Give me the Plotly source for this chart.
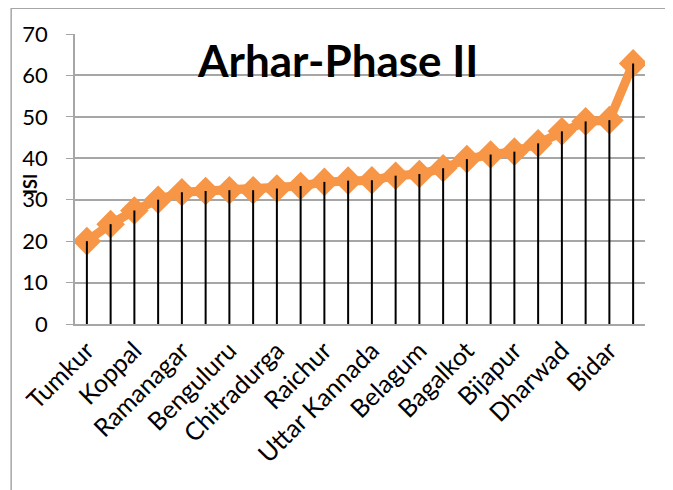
import plotly.graph_objects as go

# ── Data ─────────────────────────────────────────────────────────────────────
districts = [
    "Tumkur", "Mysore", "Koppal", "Mandya", "Ramanagar", "Hassan",
    "Benguluru", "Kolar", "Chitradurga", "Davangere", "Raichur", "Shimoga",
    "Uttar Kannada", "Gadag", "Belagum", "Haveri", "Bagalkot", "Bellary",
    "Bijapur", "Gulbarga", "Dharwad", "Yadgir", "Bidar", "Chamarajanagar",
]
isi = [
    20.0, 24.1, 27.4, 30.0, 31.8, 32.1, 32.3, 32.3, 32.7, 33.3, 34.3, 34.6,
    34.7, 35.8, 36.2, 37.6, 39.8, 40.9, 41.6, 43.6, 46.5, 48.9, 49.2, 62.9,
]
shown_labels = districts[::2]
y_ticks = [0, 10, 20, 30, 40, 50, 60, 70]

ORANGE = "#F79646"
GRID = "#A6A6A6"
FONT = "Lato, 'Open Sans', sans-serif"

fig = go.Figure()

# orange line with diamond markers
fig.add_trace(go.Scatter(
    x=districts, y=isi,
    mode="lines+markers",
    line=dict(color=ORANGE, width=9),
    marker=dict(symbol="diamond", size=22, color=ORANGE),
    hoverinfo="x+y",
))

# black drop lines from each point down to the axis
fig.add_trace(go.Scatter(
    x=districts, y=isi,
    mode="markers",
    marker=dict(size=1, color="rgba(0,0,0,0)"),
    error_y=dict(type="data", symmetric=False, array=[0] * len(isi),
                 arrayminus=isi, color="black", thickness=2, width=0),
    hoverinfo="skip",
))

fig.add_annotation(
    text="<b>Arhar-Phase II</b>", xref="paper", yref="paper",
    x=0.461, y=0.911, xanchor="center", yanchor="middle", showarrow=False,
    font=dict(family=FONT, size=44, color="black"),
)

fig.add_annotation(
    text="<b>ISI</b>", xref="paper", yref="paper",
    x=-0.079, y=0.485, xanchor="center", yanchor="middle",
    textangle=-90, showarrow=False,
    font=dict(family=FONT, size=18, color="black"),
)

# outer chart border
fig.add_shape(type="rect", xref="paper", yref="paper",
              x0=-0.112, x1=1.037, y0=-0.7, y1=1.089,
              line=dict(color=GRID, width=1.5), layer="below")

fig.update_layout(
    width=673, height=490,
    margin=dict(l=67, r=36, t=23, b=174),
    paper_bgcolor="white", plot_bgcolor="white",
    showlegend=False,
    font=dict(family=FONT, color="black"),
    xaxis=dict(
        type="category", range=[-0.5, len(districts) - 0.5],
        tickvals=shown_labels, ticktext=shown_labels,
        tickangle=-45, tickfont=dict(size=25),
        showgrid=False, showline=True, linecolor=GRID, linewidth=2,
        ticks="",
    ),
    yaxis=dict(
        range=[0, 70], tickvals=y_ticks,
        tickfont=dict(size=22),
        showgrid=True, gridcolor=GRID, gridwidth=1.5,
        showline=True, linecolor=GRID, linewidth=1.5,
        ticks="outside", ticklen=7, tickcolor=GRID,
        ticklabelstandoff=14,
        zeroline=False,
    ),
)

fig.write_html("out.html")
